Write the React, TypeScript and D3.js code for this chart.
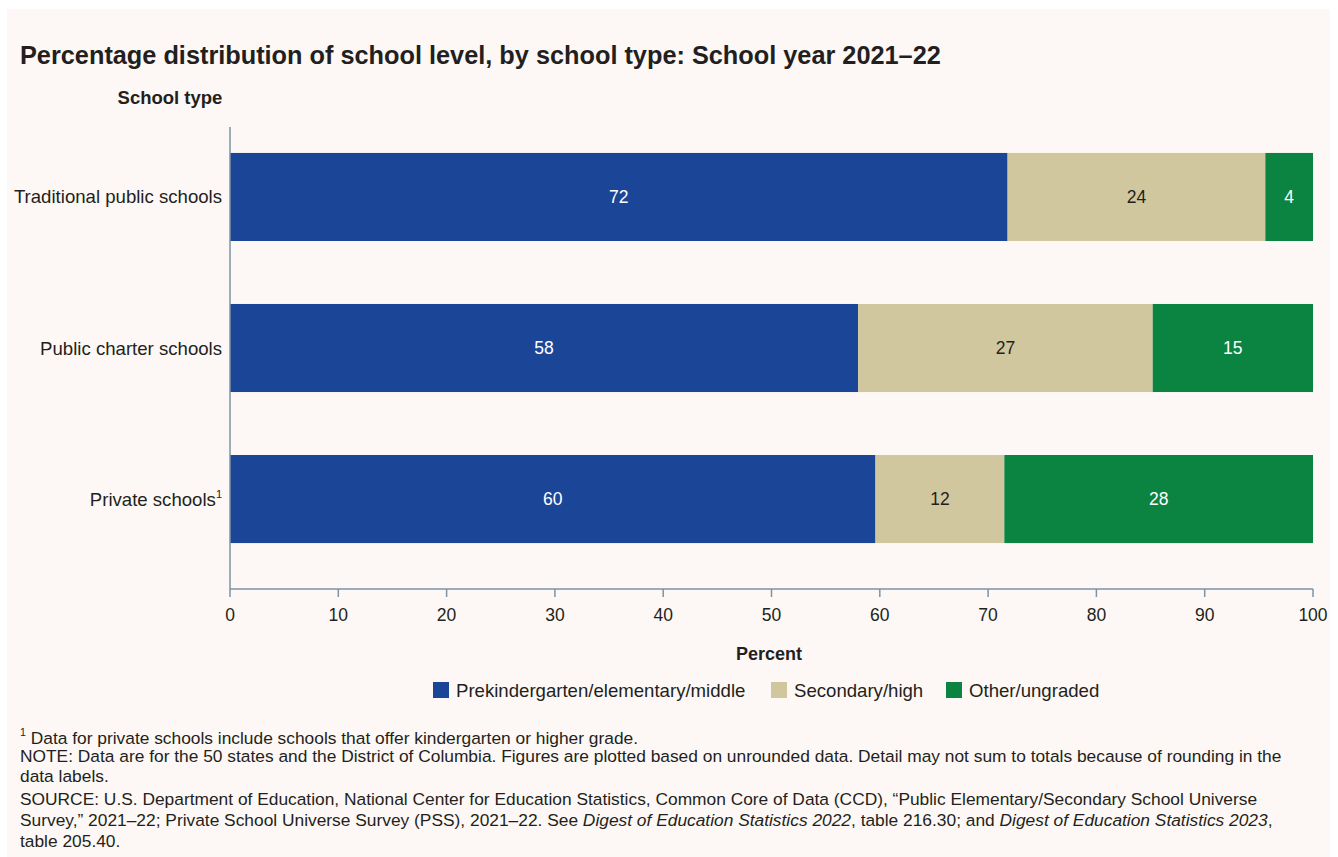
import React from "react";
import * as d3 from "d3";

const categories = ["Traditional public schools", "Public charter schools", "Private schools"];
const seriesNames = ["Prekindergarten/elementary/middle", "Secondary/high", "Other/ungraded"];
const preK = [71.8, 58.0, 59.6];
const secondary = [23.8, 27.2, 11.9];
const other = [4.4, 14.8, 28.5];
const labelsPreK = ["72", "58", "60"];
const labelsSecondary = ["24", "27", "12"];
const labelsOther = ["4", "15", "28"];
const xTicks = [0, 10, 20, 30, 40, 50, 60, 70, 80, 90, 100];
const colors = ["#1b4698", "#d1c79e", "#0b8341"];
const textColors = ["#ffffff", "#231f20", "#ffffff"];

const W = 1338;
const H = 857;
const FONT = "Liberation Sans, Arial, sans-serif";

export default function App() {
  const x = d3.scaleLinear().domain([0, 100]).range([230, 1313]);
  const y = d3
    .scaleBand()
    .domain(categories)
    .range([127, 589])
    .paddingInner(0.417)
    .paddingOuter(0.238)
    .align(0.361);

  const rows = categories.map((c, i) => ({
    cat: c,
    vals: [preK[i], secondary[i], other[i]],
    labels: [labelsPreK[i], labelsSecondary[i], labelsOther[i]],
  }));

  const stacked = rows.map((r) => {
    let acc = 0;
    return r.vals.map((v, k) => {
      const s = { x0: acc, x1: acc + v, k, label: r.labels[k] };
      acc += v;
      return s;
    });
  });

  const axisColor = "#7d93a4";
  const legendX = [433, 771, 946];

  return (
    <svg width={W} height={H} style={{ position: "absolute", left: 0, top: 0 }} fontFamily={FONT}>
      <rect x={0} y={0} width={W} height={H} fill="#ffffff" />
      <rect x={7} y={9} width={1323} height={848} fill="#fdf8f5" />
      <text x={20} y={64} fontSize={25.3} fontWeight="bold" fill="#231f20">
        Percentage distribution of school level, by school type: School year 2021–22
      </text>
      <text x={170} y={104} fontSize={18.5} fontWeight="bold" fill="#231f20" textAnchor="middle">
        School type
      </text>

      {rows.map((r, i) => (
        <g key={r.cat}>
          {stacked[i].map((s) => (
            <rect
              key={s.k}
              x={x(s.x0)}
              y={y(r.cat)}
              width={Math.min(x(s.x1), x(100)) - x(s.x0)}
              height={y.bandwidth()}
              fill={colors[s.k]}
            />
          ))}
          {stacked[i].map((s) => (
            <text
              key={"t" + s.k}
              x={(x(s.x0) + Math.min(x(s.x1), x(100))) / 2}
              y={(y(r.cat) as number) + y.bandwidth() / 2}
              dy="0.35em"
              textAnchor="middle"
              fontSize={17.5}
              fill={textColors[s.k]}
            >
              {s.label}
            </text>
          ))}
          <text
            x={222}
            y={(y(r.cat) as number) + y.bandwidth() / 2}
            dy="0.35em"
            textAnchor="end"
            fontSize={18.6}
            fill="#231f20"
          >
            {r.cat}
            {i === 2 ? (
              <tspan fontSize={11} dy="-0.7em">1</tspan>
            ) : null}
          </text>
        </g>
      ))}

      <line x1={230} x2={230} y1={127} y2={589} stroke={axisColor} strokeWidth={1.5} />
      <line x1={230} x2={1313} y1={589} y2={589} stroke={axisColor} strokeWidth={1.5} />
      {xTicks.map((t) => (
        <g key={t}>
          <line x1={x(t)} x2={x(t)} y1={589} y2={597} stroke={axisColor} strokeWidth={1.5} />
          <text x={x(t)} y={621} textAnchor="middle" fontSize={17.5} fill="#231f20">
            {t}
          </text>
        </g>
      ))}
      <text x={769} y={660} textAnchor="middle" fontSize={18} fontWeight="bold" fill="#231f20">
        Percent
      </text>

      {seriesNames.map((n, k) => (
        <g key={n}>
          <rect x={legendX[k]} y={682} width={16} height={16} fill={colors[k]} />
          <text x={legendX[k] + 23} y={697} fontSize={18.6} fill="#231f20">
            {n}
          </text>
        </g>
      ))}

      <g fontSize={16.3} fill="#231f20" transform="translate(20,0) scale(1.065,1) translate(-20,0)">
        <text x={20} y={741}>
          <tspan fontSize={10} dy="-0.5em">1</tspan>
          <tspan dy="0.5em"> Data for private schools include schools that offer kindergarten or higher grade.</tspan>
        </text>
        <text x={20} y={762}>
          NOTE: Data are for the 50 states and the District of Columbia. Figures are plotted based on unrounded data. Detail may not sum to totals because of rounding in the
        </text>
        <text x={20} y={782}>data labels.</text>
        <text x={20} y={805}>
          SOURCE: U.S. Department of Education, National Center for Education Statistics, Common Core of Data (CCD), “Public Elementary/Secondary School Universe
        </text>
        <text x={20} y={826}>
          Survey,” 2021–22; Private School Universe Survey (PSS), 2021–22. See <tspan fontStyle="italic">Digest of Education Statistics 2022</tspan>, table 216.30; and{" "}
          <tspan fontStyle="italic">Digest of Education Statistics 2023</tspan>,
        </text>
        <text x={20} y={847}>table 205.40.</text>
      </g>
    </svg>
  );
}
